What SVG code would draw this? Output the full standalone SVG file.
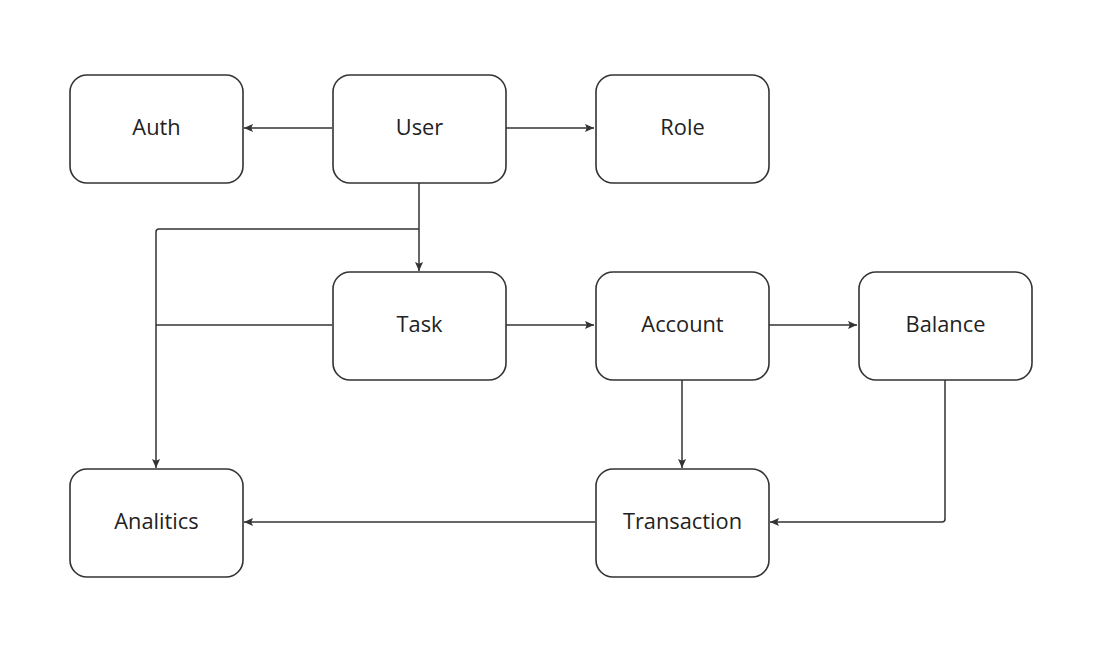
<svg xmlns="http://www.w3.org/2000/svg" width="1118" height="658" viewBox="0 0 1118 658">
<style>
.n rect{fill:#fff;stroke:#333;stroke-width:1.6}
.n text{font-family:"Open Sans","Noto Sans",sans-serif;font-size:21.8px;fill:#222;text-anchor:middle;dominant-baseline:central}
.c path{fill:none;stroke:#333;stroke-width:1.5;stroke-linejoin:round}
</style>
<defs>
<marker id="a" viewBox="0 0 10 10" refX="10" refY="5" markerWidth="9" markerHeight="9" markerUnits="userSpaceOnUse" orient="auto">
<path d="M0,0.5 L10,5 L0,9.5 L2,5 Z" fill="#333"/>
</marker>
</defs>
<rect width="1118" height="658" fill="#fff"/>
<g class="c">
<path d="M332,128 H244" marker-end="url(#a)"/>
<path d="M506,128 H594" marker-end="url(#a)"/>
<path d="M419,183 V271" marker-end="url(#a)"/>
<path d="M419,229 H159 Q156,229 156,232 V468" marker-end="url(#a)"/>
<path d="M332,325 H156"/>
<path d="M506,325 H594" marker-end="url(#a)"/>
<path d="M769,325 H857" marker-end="url(#a)"/>
<path d="M682,380 V468" marker-end="url(#a)"/>
<path d="M945,380 V519 Q945,522 942,522 H770" marker-end="url(#a)"/>
<path d="M595,522 H244" marker-end="url(#a)"/>
</g>
<g id="auth" class="n"><rect x="70" y="75" width="173" height="108" rx="17"/><text x="156.5" y="126.5">Auth</text></g>
<g id="user" class="n"><rect x="333" y="75" width="173" height="108" rx="17"/><text x="419.5" y="126.5">User</text></g>
<g id="role" class="n"><rect x="596" y="75" width="173" height="108" rx="17"/><text x="682.5" y="126.5">Role</text></g>
<g id="task" class="n"><rect x="333" y="272" width="173" height="108" rx="17"/><text x="419.5" y="323.5">Task</text></g>
<g id="account" class="n"><rect x="596" y="272" width="173" height="108" rx="17"/><text x="682.5" y="323.5">Account</text></g>
<g id="balance" class="n"><rect x="859" y="272" width="173" height="108" rx="17"/><text x="945.5" y="323.5">Balance</text></g>
<g id="analitics" class="n"><rect x="70" y="469" width="173" height="108" rx="17"/><text x="156.5" y="520.5">Analitics</text></g>
<g id="transaction" class="n"><rect x="596" y="469" width="173" height="108" rx="17"/><text x="682.5" y="520.5">Transaction</text></g>
</svg>
